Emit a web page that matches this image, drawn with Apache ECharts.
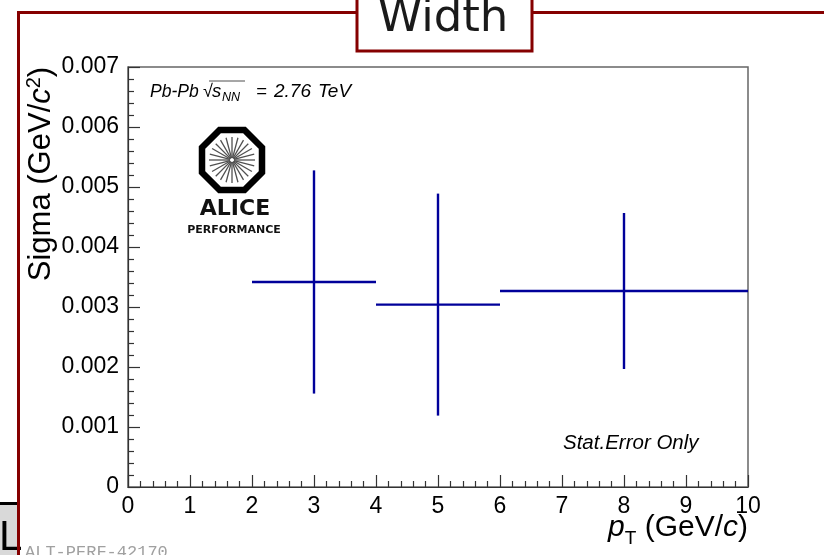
<!DOCTYPE html>
<html>
<head>
<meta charset="utf-8">
<script src="https://cdn.jsdelivr.net/npm/echarts/dist/echarts.min.js"></script>
<style>
  html, body { margin: 0; padding: 0; background: #fff; }
  #chart { width: 824px; height: 555px; }
</style>
</head>
<body>
<div id="chart"></div>
<script>
// Peak width (sigma) versus transverse momentum, one point per pT bin
var binCenters = [3, 5, 8];
var binLow = [2, 4, 6];
var binHigh = [4, 6, 10];
var sigmaValues = [0.003417, 0.003040, 0.003267];
var sigmaErrors = [0.00186, 0.00185, 0.00130];

// Axis tick labels
var xTickLabels = ['0', '1', '2', '3', '4', '5', '6', '7', '8', '9', '10'];
var yTickLabels = ['0', '0.001', '0.002', '0.003', '0.004', '0.005', '0.006', '0.007'];

var FRAME_RED = '#850000';
var AXIS_COL = '#333';
var SANS = '"Liberation Sans", Arial, Helvetica, sans-serif';

var points = binCenters.map(function (c, i) {
  return [c, sigmaValues[i], binLow[i], binHigh[i], sigmaErrors[i]];
});

// ALICE logo: octagon with radial spokes
var logoCx = 232, logoCy = 160;
var octR = 30 / Math.cos(Math.PI / 8);
var octPts = [];
for (var k = 0; k < 8; k++) {
  var a = Math.PI / 8 + k * Math.PI / 4;
  octPts.push([logoCx + octR * Math.cos(a), logoCy + octR * Math.sin(a)]);
}
var logoParts = [{
  type: 'polygon', z: 12,
  shape: { points: octPts },
  style: { fill: '#fff', stroke: '#000', lineWidth: 6.5 }
}];
for (var s = 0; s < 24; s++) {
  var ang = s * Math.PI / 12;
  logoParts.push({
    type: 'line', z: 13,
    shape: {
      x1: logoCx + 2 * Math.cos(ang), y1: logoCy + 2 * Math.sin(ang),
      x2: logoCx + 23 * Math.cos(ang), y2: logoCy + 23 * Math.sin(ang)
    },
    style: { stroke: '#505050', lineWidth: 1.3 }
  });
}

function italicText(x, y, txt, size) {
  return {
    type: 'text', z: 12, x: x, y: y,
    style: {
      text: txt, fontSize: size, fontFamily: SANS, fontStyle: 'italic',
      fill: '#000', align: 'left', verticalAlign: 'middle'
    }
  };
}

var chart = echarts.init(document.getElementById('chart'), null, { renderer: 'canvas' });

chart.setOption({
  backgroundColor: '#fff',
  animation: false,
  grid: {
    left: 128, right: 76, top: 67, bottom: 68,
    show: true, borderColor: '#666', borderWidth: 1.5, backgroundColor: 'transparent'
  },
  xAxis: {
    type: 'value', min: 0, max: 10, interval: 1,
    axisLine: { onZero: false, lineStyle: { color: AXIS_COL, width: 1.2 } },
    axisTick: { inside: true, length: 12, lineStyle: { color: AXIS_COL, width: 1.2 } },
    minorTick: { show: true, splitNumber: 5, length: 6, lineStyle: { color: AXIS_COL, width: 1.2 } },
    splitLine: { show: false },
    axisLabel: {
      fontSize: 23, color: '#000', fontFamily: SANS, margin: 8,
      showMinLabel: true, showMaxLabel: true,
      formatter: function (v) { return xTickLabels[Math.round(v)]; }
    }
  },
  yAxis: {
    type: 'value', min: 0, max: 0.007, interval: 0.001,
    axisLine: { onZero: false, lineStyle: { color: AXIS_COL, width: 1.2 } },
    axisTick: { inside: true, length: 12, lineStyle: { color: AXIS_COL, width: 1.2 } },
    minorTick: { show: true, splitNumber: 5, length: 6, lineStyle: { color: AXIS_COL, width: 1.2 } },
    splitLine: { show: false },
    axisLabel: {
      fontSize: 23, color: '#000', fontFamily: SANS, margin: 9,
      showMinLabel: true, showMaxLabel: true,
      formatter: function (v) { return yTickLabels[Math.round(v * 1000)]; }
    }
  },
  series: [{
    type: 'custom',
    data: points,
    encode: { x: 0, y: 1 },
    renderItem: function (params, api) {
      var x = api.value(0), y = api.value(1);
      var xl = api.value(2), xh = api.value(3), e = api.value(4);
      var l = api.coord([xl, y]), r = api.coord([xh, y]);
      var t = api.coord([x, y + e]), b = api.coord([x, y - e]);
      var st = { stroke: '#00009a', lineWidth: 2.4 };
      return {
        type: 'group',
        children: [
          { type: 'line', shape: { x1: l[0], y1: l[1], x2: r[0], y2: r[1] }, style: st },
          { type: 'line', shape: { x1: t[0], y1: t[1], x2: b[0], y2: b[1] }, style: st }
        ]
      };
    }
  }],
  graphic: [
    // outer canvas frame
    {
      type: 'polyline', z: 10,
      shape: { points: [[18.5, 560], [18.5, 12.5], [830, 12.5]] },
      style: { stroke: FRAME_RED, lineWidth: 3, fill: null }
    },
    // title box
    {
      type: 'rect', z: 11,
      shape: { x: 357, y: -10, width: 175, height: 61 },
      style: { fill: '#fff', stroke: FRAME_RED, lineWidth: 3 }
    },
    {
      type: 'text', z: 12, x: 443, y: 19,
      style: {
        text: 'Width', fontSize: 45, fontFamily: '"DejaVu Sans", sans-serif',
        fill: '#1a1a1a', align: 'center', verticalAlign: 'middle'
      }
    },
    // y-axis title
    {
      type: 'text', z: 12, x: 41, y: 174, rotation: Math.PI / 2,
      style: {
        text: '{n|Sigma (GeV/}{i|c}{sup|2}{n|)}',
        align: 'center', verticalAlign: 'middle',
        rich: {
          n: { fontSize: 31, fontFamily: SANS, fill: '#000' },
          i: { fontSize: 31, fontFamily: SANS, fontStyle: 'italic', fill: '#000' },
          sup: { fontSize: 20, fontFamily: SANS, fill: '#000', verticalAlign: 'top', padding: [0, 0, 13, 0] }
        }
      }
    },
    // x-axis title
    {
      type: 'text', z: 12, x: 748, y: 528,
      style: {
        text: '{i|p}{sub|T}{n| (GeV/}{i|c}{n|)}',
        align: 'right', verticalAlign: 'middle',
        rich: {
          n: { fontSize: 30, fontFamily: SANS, fill: '#000' },
          i: { fontSize: 30, fontFamily: SANS, fontStyle: 'italic', fill: '#000' },
          sub: { fontSize: 19, fontFamily: SANS, fill: '#000', padding: [22, 0, 0, 0] }
        }
      }
    },
    // collision system label
    italicText(150, 92, 'Pb-Pb', 17.5),
    {
      type: 'text', z: 12, x: 203, y: 92,
      style: { text: '√', fontSize: 18, fontFamily: SANS, fill: '#000', align: 'left', verticalAlign: 'middle' }
    },
    italicText(212, 92, 's', 18.5),
    italicText(222, 98, 'NN', 12.5),
    italicText(256, 92, '=', 18.5),
    italicText(274, 92, '2.76', 19),
    italicText(318, 92, 'TeV', 19),
    {
      type: 'line', z: 12,
      shape: { x1: 209, y1: 81, x2: 245, y2: 81 },
      style: { stroke: '#222', lineWidth: 0.8 }
    },
    {
      type: 'text', z: 12, x: 563, y: 443,
      style: {
        text: 'Stat.Error Only', fontSize: 20.5, fontFamily: SANS, fontStyle: 'italic',
        fill: '#000', align: 'left', verticalAlign: 'middle'
      }
    }
  ].concat(logoParts).concat([
    {
      type: 'text', z: 12, x: 235, y: 209,
      style: {
        text: 'ALICE', fontSize: 22, fontWeight: 'bold', fontFamily: '"DejaVu Sans", sans-serif',
        fill: '#111', align: 'center', verticalAlign: 'middle'
      }
    },
    {
      type: 'text', z: 12, x: 234, y: 230,
      style: {
        text: 'PERFORMANCE', fontSize: 11, fontWeight: 'bold', fontFamily: '"DejaVu Sans", sans-serif',
        fill: '#111', align: 'center', verticalAlign: 'middle'
      }
    },
    // corner badge and figure reference
    {
      type: 'rect', z: 9,
      shape: { x: 0, y: 503, width: 17, height: 60 },
      style: { fill: '#d9d9d9' }
    },
    {
      type: 'line', z: 9,
      shape: { x1: 0, y1: 503.5, x2: 17, y2: 503.5 },
      style: { stroke: '#000', lineWidth: 3 }
    },
    {
      type: 'text', z: 9, x: -1, y: 538,
      style: {
        text: 'L', fontSize: 42, fontFamily: SANS, fill: '#000',
        align: 'left', verticalAlign: 'middle'
      }
    },
    {
      type: 'text', z: 12, x: 25, y: 552,
      style: {
        text: 'ALT-PERF-42170', fontSize: 17, fontFamily: '"Liberation Mono", "DejaVu Sans Mono", monospace',
        fill: '#a0a0a0', align: 'left', verticalAlign: 'middle'
      }
    }
  ])
});
</script>
</body>
</html>
